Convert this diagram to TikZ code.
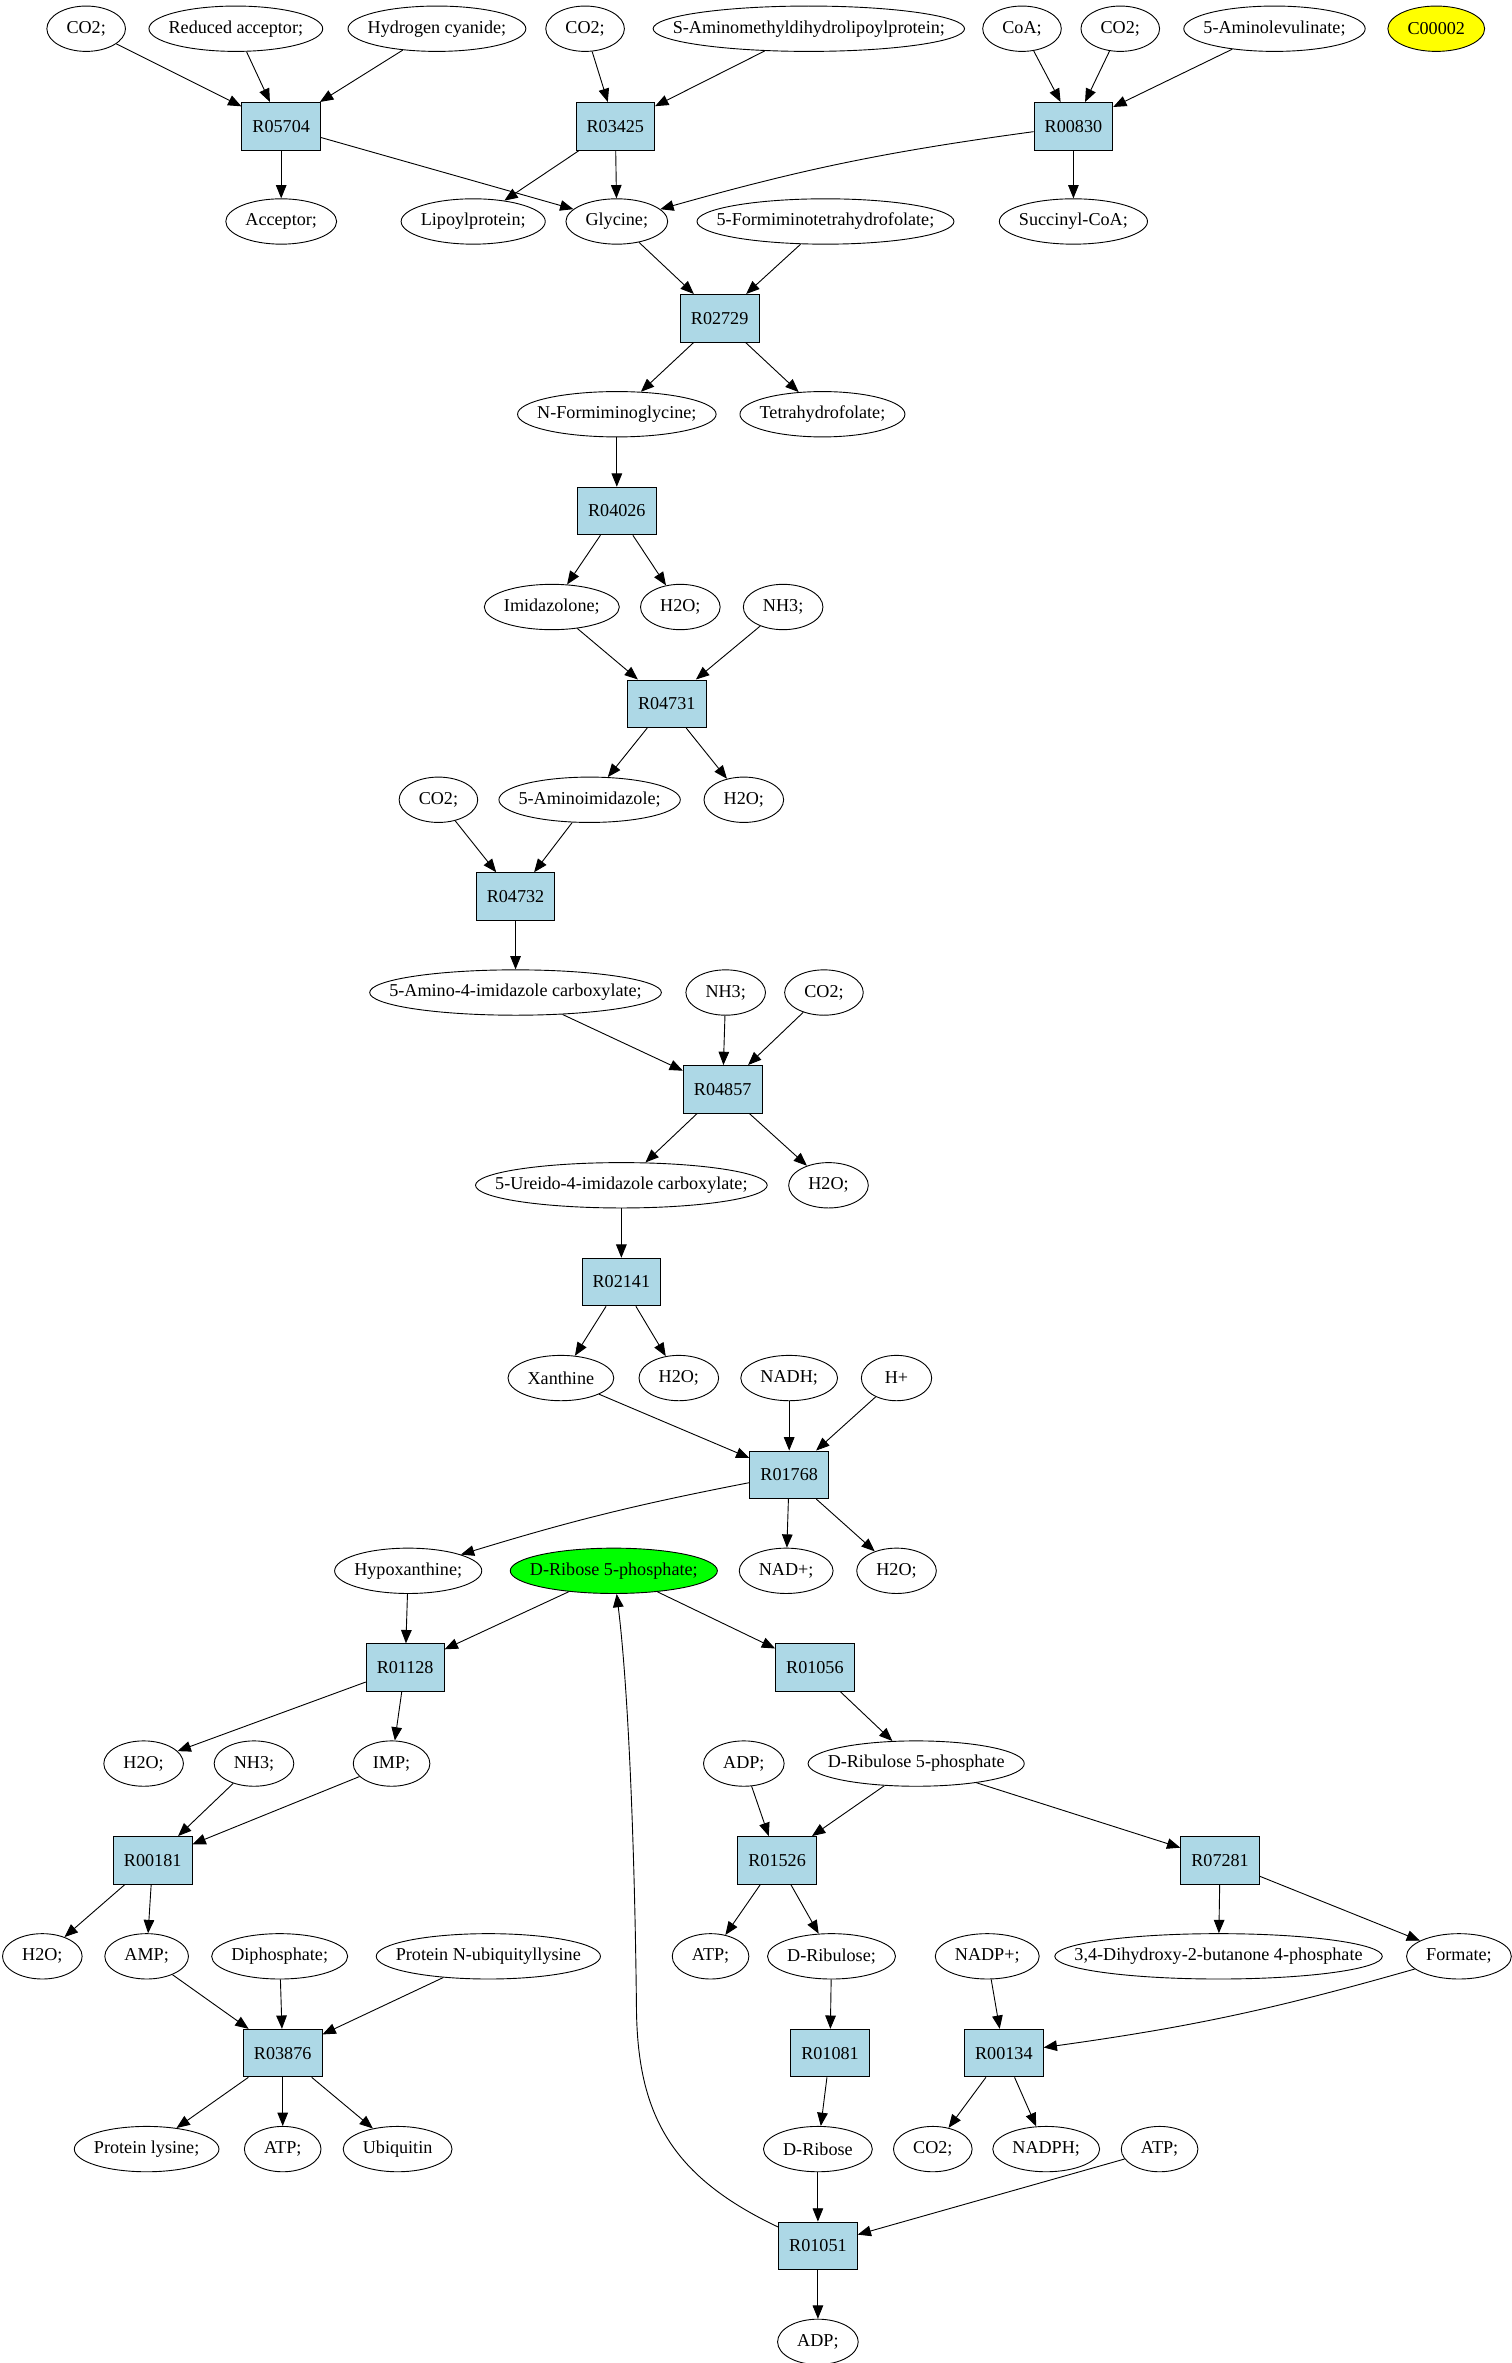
\documentclass[tikz,border=0pt]{standalone}
\usepackage{fontspec}
\setmainfont{Liberation Serif}
\usetikzlibrary{shapes.geometric,arrows.meta}
\definecolor{rboxblue}{RGB}{173,216,230}
\definecolor{rgreen}{RGB}{0,255,0}
\definecolor{ryellow}{RGB}{255,255,0}
\newcommand\nodefont{\fontsize{12}{14}\selectfont}
\newdimen\tw
\newcommand\enode[4][]{%
  \pgfinterruptpicture
  \sbox0{\normalfont\nodefont #4}%
  \global\tw=\wd0\relax
  \endpgfinterruptpicture
  \global\advance\tw by 26pt\relax
  \ifdim\tw<46.5pt\relax \global\tw=46.5pt\relax\fi
  \node[ell,#1,minimum width=\the\tw] (#2) at (#3) {\makebox[0pt]{#4}};}
\begin{document}
\begin{tikzpicture}[x=1pt,y=-1pt,
  ell/.style={ellipse, draw, line width=0.6pt, inner sep=0pt, minimum height=30pt, font=\nodefont},
  rx/.style={rectangle, draw, line width=0.6pt, fill=rboxblue, minimum width=46.5pt, minimum height=31.5pt, inner xsep=7pt, font=\nodefont},
  arr/.style={-{Triangle[length=8.8pt,width=7pt]}, line width=0.6pt},
  start/.style={fill=rgreen},
  other/.style={fill=ryellow}]
\useasboundingbox (0,0) rectangle (1000,1563);
% row 0
\enode{a1}{57,19}{CO2;}
\enode{a2}{156,19}{Reduced acceptor;}
\enode{a3}{289,19}{Hydrogen cyanide;}
\enode{a4}{387,19}{CO2;}
\enode{a5}{535,19}{S-Aminomethyldihydrolipoylprotein;}
\enode{a6}{676,19}{CoA;}
\enode{a7}{741,19}{CO2;}
\enode{a8}{843,19}{5-Aminolevulinate;}
\enode[other]{a9}{950,19}{C00002}
% row 1
\node[rx] (R05704) at (186,83.5) {R05704};
\node[rx] (R03425) at (407,83.5) {R03425};
\node[rx] (R00830) at (710,83.5) {R00830};
% row 2
\enode{b1}{186,146.5}{Acceptor;}
\enode{b2}{313,146.5}{Lipoylprotein;}
\enode{gly}{408,146.5}{Glycine;}
\enode{b4}{546,146.5}{5-Formiminotetrahydrofolate;}
\enode{b5}{710,146.5}{Succinyl-CoA;}
% row 3
\node[rx] (R02729) at (476,210.5) {R02729};
% row 4
\enode{c1}{408,274}{N-Formiminoglycine;}
\enode{c2}{544,274}{Tetrahydrofolate;}
% row 5
\node[rx] (R04026) at (408,338) {R04026};
% row 6
\enode{d1}{365,401.5}{Imidazolone;}
\enode{d2}{450,401.5}{H2O;}
\enode{d3}{518,401.5}{NH3;}
% row 7
\node[rx] (R04731) at (441,465.5) {R04731};
% row 8
\enode{e1}{290,529}{CO2;}
\enode{e2}{390,529}{5-Aminoimidazole;}
\enode{e3}{492,529}{H2O;}
% row 9
\node[rx] (R04732) at (341,593) {R04732};
% row 10
\enode{f1}{341,656.5}{5-Amino-4-imidazole carboxylate;}
\enode{f2}{480,656.5}{NH3;}
\enode{f3}{545,656.5}{CO2;}
% row 11
\node[rx] (R04857) at (478,720.5) {R04857};
% row 12
\enode{g1}{411,784}{5-Ureido-4-imidazole carboxylate;}
\enode{g2}{548,784}{H2O;}
% row 13
\node[rx] (R02141) at (411,848) {R02141};
% row 14
\enode{h1}{371,911.5}{Xanthine}
\enode{h2}{449,911.5}{H2O;}
\enode{h3}{522,911.5}{NADH;}
\enode{h4}{593,911.5}{H+}
% row 15
\node[rx] (R01768) at (522,975.5) {R01768};
% row 16
\enode{i1}{270,1039}{Hypoxanthine;}
\enode[start]{rib}{406,1039}{D-Ribose 5-phosphate;}
\enode{i3}{520,1039}{NAD+;}
\enode{i4}{593,1039}{H2O;}
% row 17
\node[rx] (R01128) at (268,1103) {R01128};
\node[rx] (R01056) at (539,1103) {R01056};
% row 18
\enode{j1}{95,1166.5}{H2O;}
\enode{j2}{168,1166.5}{NH3;}
\enode{j3}{259,1166.5}{IMP;}
\enode{j4}{492,1166.5}{ADP;}
\enode{j5}{606,1166.5}{D-Ribulose 5-phosphate}
% row 19
\node[rx] (R00181) at (101,1230.5) {R00181};
\node[rx] (R01526) at (514,1230.5) {R01526};
\node[rx] (R07281) at (807,1230.5) {R07281};
% row 20
\enode{k1}{28,1294}{H2O;}
\enode{k2}{97,1294}{AMP;}
\enode{k3}{185,1294}{Diphosphate;}
\enode{k4}{323,1294}{Protein N-ubiquityllysine}
\enode{k5}{470,1294}{ATP;}
\enode{k6}{550,1294}{D-Ribulose;}
\enode{k7}{653,1294}{NADP+;}
\enode{k8}{806,1294}{3,4-Dihydroxy-2-butanone 4-phosphate}
\enode{k9}{965,1294}{Formate;}
% row 21
\node[rx] (R03876) at (187,1358) {R03876};
\node[rx] (R01081) at (549,1358) {R01081};
\node[rx] (R00134) at (664,1358) {R00134};
% row 22
\enode{l1}{97,1421.5}{Protein lysine;}
\enode{l2}{187,1421.5}{ATP;}
\enode{l3}{263,1421.5}{Ubiquitin}
\enode{l4}{541,1421.5}{D-Ribose}
\enode{l5}{617,1421.5}{CO2;}
\enode{l6}{692,1421.5}{NADPH;}
\enode{l7}{767,1421.5}{ATP;}
% row 23
\node[rx] (R01051) at (541,1485.5) {R01051};
% row 24
\enode{m1}{541,1549}{ADP;}
% edges
\foreach \s/\t in {a1/R05704,a2/R05704,a3/R05704,R05704/b1,R05704/gly,
  a4/R03425,a5/R03425,R03425/b2,R03425/gly,
  a6/R00830,a7/R00830,a8/R00830,R00830/b5,
  gly/R02729,b4/R02729,R02729/c1,R02729/c2,
  c1/R04026,R04026/d1,R04026/d2,
  d1/R04731,d3/R04731,R04731/e2,R04731/e3,
  e1/R04732,e2/R04732,R04732/f1,
  f1/R04857,f2/R04857,f3/R04857,R04857/g1,R04857/g2,
  g1/R02141,R02141/h1,R02141/h2,
  h1/R01768,h3/R01768,h4/R01768,R01768/i3,R01768/i4,
  i1/R01128,rib/R01128,rib/R01056,
  R01128/j1,R01128/j3,R01056/j5,
  j2/R00181,j3/R00181,R00181/k1,R00181/k2,
  k2/R03876,k3/R03876,k4/R03876,R03876/l1,R03876/l2,R03876/l3,
  j4/R01526,j5/R01526,j5/R07281,R01526/k5,R01526/k6,
  R07281/k8,R07281/k9,
  k6/R01081,R01081/l4,
  k7/R00134,R00134/l5,R00134/l6,
  l4/R01051,l7/R01051,R01051/m1}
  \draw[arr] (\s) -- (\t);
\draw[arr] (R00830) to[bend right=4] (gly);
\draw[arr] (R01768) to[bend right=3] (i1);
\draw[arr] (k9) to[bend left=4] (R00134);
\draw[arr] (R01051) .. controls (445,1440) and (422,1400) .. (421,1330) .. controls (420,1230) and (416,1120) .. (rib);
\end{tikzpicture}
\end{document}
